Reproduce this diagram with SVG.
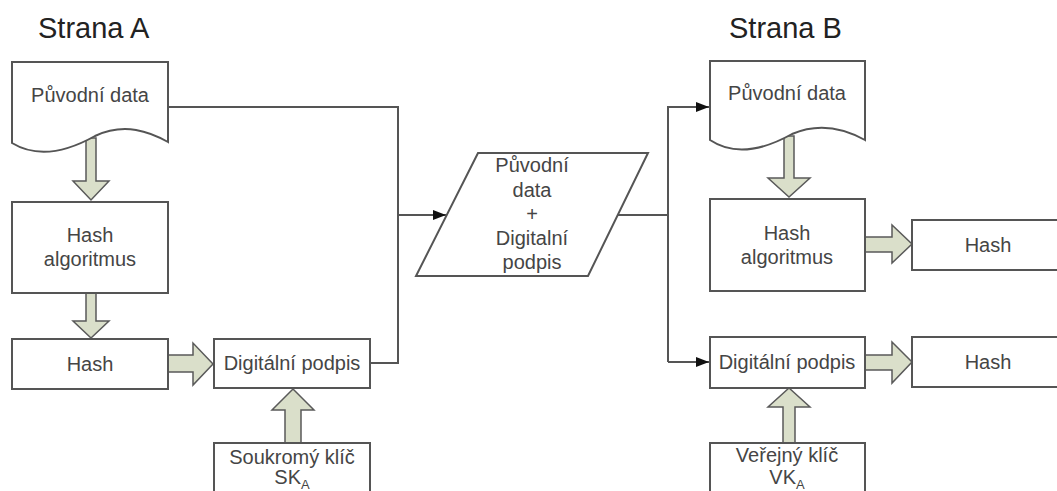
<svg xmlns="http://www.w3.org/2000/svg" width="1057" height="491" viewBox="0 0 1057 491">
<defs>
<style>
.box{fill:#fff;stroke:#555;stroke-width:2}
.fat{fill:#dadfca;stroke:#5a5a5a;stroke-width:1.5;stroke-linejoin:miter}
.t{font-family:"Liberation Sans",Arial,sans-serif;font-size:20px;fill:#454545;text-anchor:middle}
.title{font-family:"Liberation Sans",Arial,sans-serif;font-size:29px;fill:#222}
.ln{fill:none;stroke:#555;stroke-width:2}
</style>
<marker id="ah" markerUnits="userSpaceOnUse" markerWidth="14" markerHeight="12" refX="13" refY="6" orient="auto">
<path d="M0,1 L13,6 L0,11 Z" fill="#111"/>
</marker>
</defs>
<rect width="1057" height="491" fill="#fff"/>
<text class="title" x="38" y="38">Strana A</text>
<text class="title" x="729" y="38">Strana B</text>

<g id="connectors">
<path class="ln" d="M168,107 H398 V363 H370"/>
<path class="ln" d="M398,215 H446" marker-end="url(#ah)"/>
<path class="ln" d="M617,215 H668"/>
<path class="ln" d="M668,362 V107 H709" marker-end="url(#ah)"/>
<path class="ln" d="M668,362 H709" marker-end="url(#ah)"/>
<polygon class="fat" points="86,138 96,138 96,181 109,181 91,200 73,181 86,181"/>
<polygon class="fat" points="86,293 96,293 96,321 109,321 91,338 73,321 86,321"/>
<polygon class="fat" points="168,355 193,355 193,343 213,364 193,385 193,372 168,372"/>
<polygon class="fat" points="285,443 285,410 272,410 293,389 314,410 301,410 301,443"/>
<polygon class="fat" points="784,136 794,136 794,178 810,178 789,197 768,178 784,178"/>
<polygon class="fat" points="865,237 892,237 892,225 912,244 892,263 892,252 865,252"/>
<polygon class="fat" points="865,355 892,355 892,342 912,362 892,383 892,370 865,370"/>
<polygon class="fat" points="783,443 783,407 768,407 789,388 810,407 795,407 795,443"/>
</g>

<g id="docA">
<path class="box" d="M12,62 H168 V142 C150,132 125,122 95,136 C70,150 40,160 12,143 Z"/>
<text class="t" x="90" y="102">Původní data</text>
</g>
<g id="hashAlgA">
<rect class="box" x="12" y="202" width="156" height="91"/>
<text class="t" x="90" y="242">Hash</text>
<text class="t" x="90" y="266">algoritmus</text>
</g>
<g id="hashA">
<rect class="box" x="12" y="339" width="156" height="50"/>
<text class="t" x="90" y="371">Hash</text>
</g>
<g id="podpisA">
<rect class="box" x="214" y="339" width="156" height="49"/>
<text class="t" x="292" y="370">Digitální podpis</text>
</g>
<g id="keyA">
<rect class="box" x="214" y="443" width="156" height="60"/>
<text class="t" x="292" y="464">Soukromý klíč</text>
<text class="t" x="292" y="484">SK<tspan font-size="13" dy="5">A</tspan></text>
</g>
<g id="combined">
<polygon class="box" points="478,153 648,153 588,276 416,276"/>
<text class="t" x="532" y="172">Původní</text>
<text class="t" x="532" y="197">data</text>
<text class="t" x="532" y="221">+</text>
<text class="t" x="532" y="245">Digitalní</text>
<text class="t" x="532" y="269">podpis</text>
</g>
<g id="docB">
<path class="box" d="M710,61 H865 V140 C847,130 822,121 792,134 C767,148 737,158 710,140 Z"/>
<text class="t" x="787" y="100">Původní data</text>
</g>
<g id="hashAlgB">
<rect class="box" x="710" y="199" width="155" height="92"/>
<text class="t" x="787" y="240">Hash</text>
<text class="t" x="787" y="264">algoritmus</text>
</g>
<g id="hashB1">
<rect class="box" x="912" y="220" width="150" height="50"/>
<text class="t" x="988" y="252">Hash</text>
</g>
<g id="podpisB">
<rect class="box" x="710" y="337" width="155" height="51"/>
<text class="t" x="787" y="369">Digitální podpis</text>
</g>
<g id="hashB2">
<rect class="box" x="912" y="337" width="150" height="50"/>
<text class="t" x="988" y="369">Hash</text>
</g>
<g id="keyB">
<rect class="box" x="710" y="443" width="155" height="60"/>
<text class="t" x="787" y="462">Veřejný klíč</text>
<text class="t" x="787" y="484">VK<tspan font-size="13" dy="5">A</tspan></text>
</g>
</svg>
